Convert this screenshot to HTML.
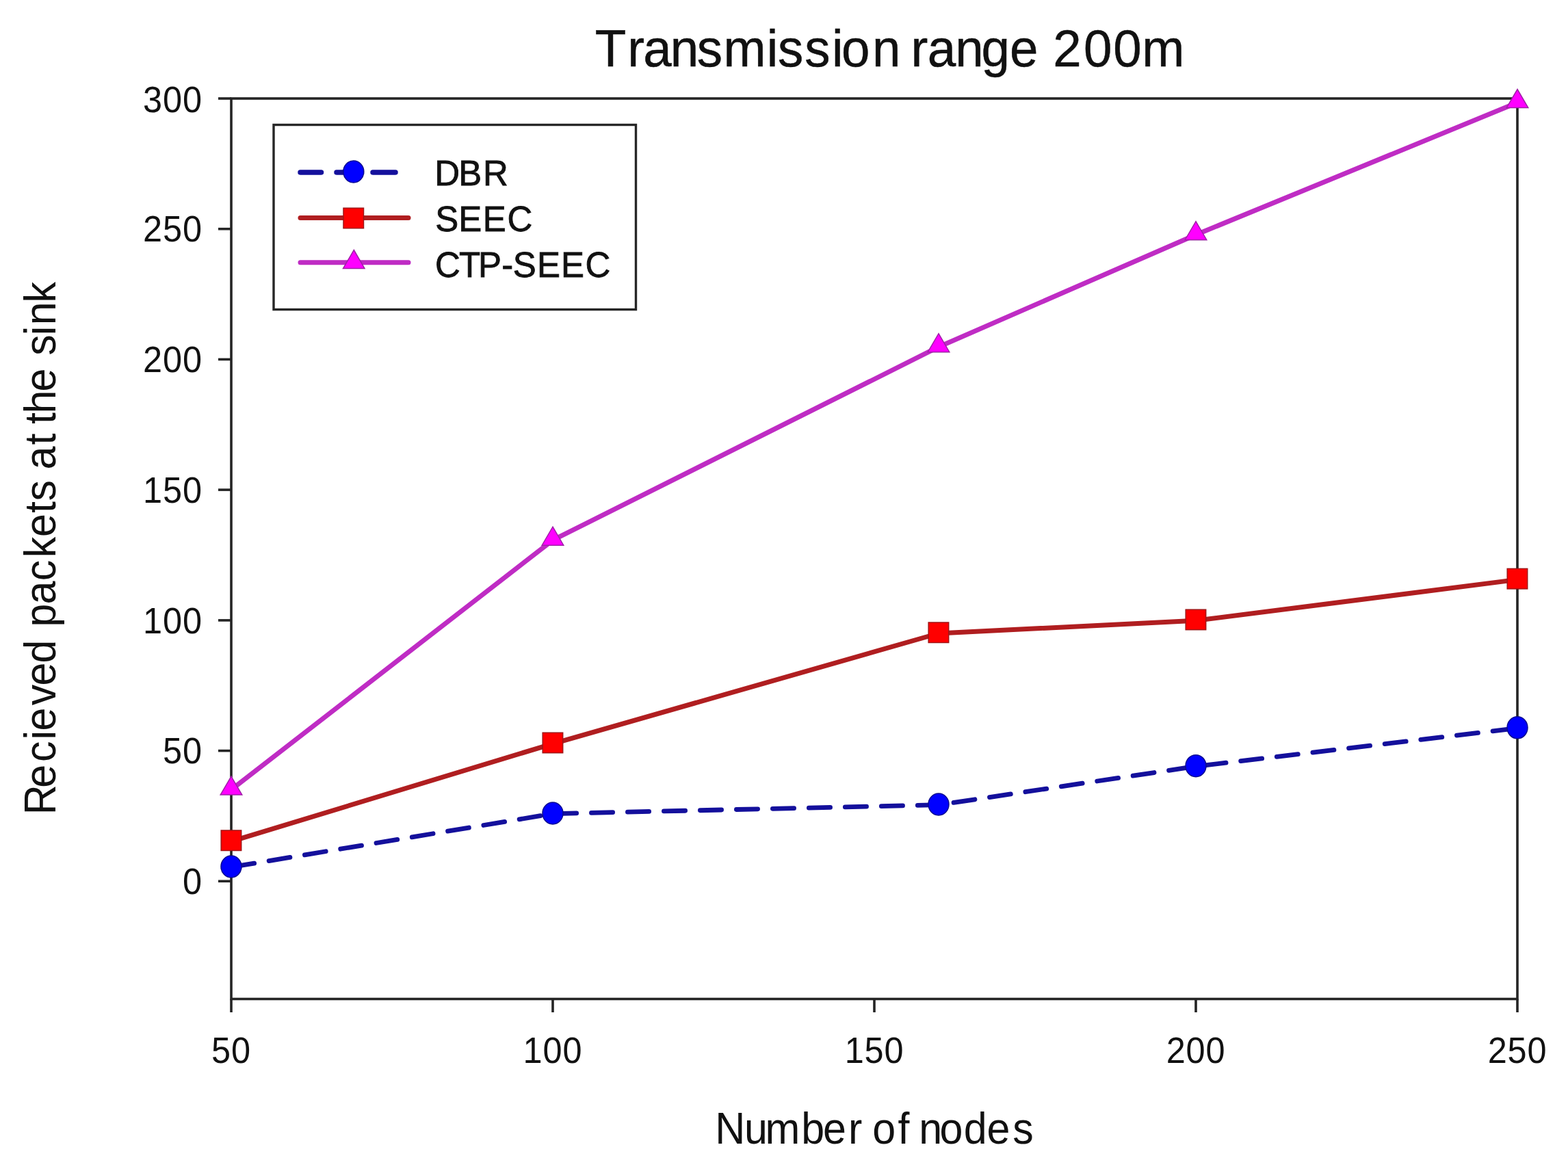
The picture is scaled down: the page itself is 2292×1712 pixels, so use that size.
<!DOCTYPE html>
<html><head><meta charset="utf-8"><title>Transmission range 200m</title>
<style>
html,body{margin:0;padding:0;background:#fff;}
body{width:2292px;height:1712px;overflow:hidden;}
svg{display:block;}
text{font-family:"Liberation Sans",Arial,Helvetica,sans-serif;fill:#111111;}
</style></head><body>
<svg width="2292" height="1712" viewBox="0 0 2292 1712">
<rect x="0" y="0" width="2292" height="1712" fill="#ffffff"/>
<g>

<text transform="translate(0,96.6) scale(1,1.025)" x="869.7 917.2 940.3 979.8 1018.8 1057.4 1120.7 1136.9 1176.3 1216.1 1230.0 1275.1 1316.6 1331.6 1355.7 1396.2 1434.4 1476.0 1517.5 1539.3 1584.1 1627.3 1669.3" y="0" font-size="74.6" stroke="#111111" stroke-width="0.5">Transmission range 200m</text>
<rect x="338" y="144" width="1880" height="1316.5" fill="none" stroke="#242424" stroke-width="3.6"/>
<line x1="319" y1="1288.3" x2="338" y2="1288.3" stroke="#242424" stroke-width="3.6"/>
<text transform="translate(0,1306.9) scale(1,1.07)" x="266.9" y="0" font-size="50.5">0</text>
<line x1="319" y1="1097.6" x2="338" y2="1097.6" stroke="#242424" stroke-width="3.6"/>
<text transform="translate(0,1116.2) scale(1,1.07)" x="238.0 266.9" y="0" font-size="50.5">50</text>
<line x1="319" y1="906.9" x2="338" y2="906.9" stroke="#242424" stroke-width="3.6"/>
<text transform="translate(0,925.5) scale(1,1.07)" x="209.1 238.0 266.9" y="0" font-size="50.5">100</text>
<line x1="319" y1="716.1" x2="338" y2="716.1" stroke="#242424" stroke-width="3.6"/>
<text transform="translate(0,734.8) scale(1,1.07)" x="209.1 238.0 266.9" y="0" font-size="50.5">150</text>
<line x1="319" y1="525.4" x2="338" y2="525.4" stroke="#242424" stroke-width="3.6"/>
<text transform="translate(0,544.0) scale(1,1.07)" x="209.1 238.0 266.9" y="0" font-size="50.5">200</text>
<line x1="319" y1="334.7" x2="338" y2="334.7" stroke="#242424" stroke-width="3.6"/>
<text transform="translate(0,353.3) scale(1,1.07)" x="209.1 238.0 266.9" y="0" font-size="50.5">250</text>
<line x1="319" y1="144.0" x2="338" y2="144.0" stroke="#242424" stroke-width="3.6"/>
<text transform="translate(0,163.6) scale(1,1.07)" x="209.1 238.0 266.9" y="0" font-size="50.5">300</text>
<line x1="338.0" y1="1460.5" x2="338.0" y2="1480" stroke="#242424" stroke-width="3.6"/>
<text transform="translate(0,1554.4) scale(1,1.07)" x="309.1 338.0" y="0" font-size="50.5">50</text>
<line x1="808.0" y1="1460.5" x2="808.0" y2="1480" stroke="#242424" stroke-width="3.6"/>
<text transform="translate(0,1554.4) scale(1,1.07)" x="764.6 793.5 822.4" y="0" font-size="50.5">100</text>
<line x1="1278.0" y1="1460.5" x2="1278.0" y2="1480" stroke="#242424" stroke-width="3.6"/>
<text transform="translate(0,1554.4) scale(1,1.07)" x="1234.7 1263.6 1292.5" y="0" font-size="50.5">150</text>
<line x1="1748.0" y1="1460.5" x2="1748.0" y2="1480" stroke="#242424" stroke-width="3.6"/>
<text transform="translate(0,1554.4) scale(1,1.07)" x="1704.7 1733.6 1762.5" y="0" font-size="50.5">200</text>
<line x1="2218.0" y1="1460.5" x2="2218.0" y2="1480" stroke="#242424" stroke-width="3.6"/>
<text transform="translate(0,1554.4) scale(1,1.07)" x="2174.7 2203.6 2232.5" y="0" font-size="50.5">250</text>
<text transform="translate(0,1671.8) scale(1,1.05)" x="1045.3 1088.1 1118.4 1171.2 1202.9 1239.9 1260.3 1275.3 1312.6 1329.6 1343.3 1373.6 1408.7 1442.6 1480.2" y="0" font-size="61">Number of nodes</text>
<text transform="translate(80.6,1200) rotate(-90) scale(1,1.05)" x="8.8 48.2 85.9 118.5 131.4 168.7 197.6 230.4 264.4 283.6 316.6 350.7 384.8 414.9 450.1 467.6 498.1 513.6 549.5 566.4 580.1 595.6 627.4 661.3 680.2 709.8 724.8 757.5" y="0" font-size="61">Recieved packets at the sink</text>
<polyline points="338.0,1154.6 808.0,789.7 1372.0,507.2 1748.0,343.2 2218.0,150.0" fill="none" stroke="#bf2cc4" stroke-width="7" stroke-linejoin="round" stroke-linecap="round"/>
<polyline points="338.0,1230.1 808.0,1087.3 1372.0,926.0 1748.0,907.3 2218.0,847.4" fill="none" stroke="#b01e20" stroke-width="7" stroke-linejoin="round" stroke-linecap="round"/>
<polyline points="338.0,1267.7 808.0,1189.7 1372.0,1176.7 1748.0,1120.4 2218.0,1064.5" fill="none" stroke="#14109c" stroke-width="6.8" stroke-dasharray="31.2 21.8" stroke-dashoffset="-2.9" stroke-linejoin="round" stroke-linecap="round"/>
<polygon points="338.0,1135.1 353.8,1162.1 322.2,1162.1" fill="#ff00ff" stroke="#a020a8" stroke-width="1.5" stroke-linejoin="miter"/>
<polygon points="808.0,770.2 823.8,797.2 792.2,797.2" fill="#ff00ff" stroke="#a020a8" stroke-width="1.5" stroke-linejoin="miter"/>
<polygon points="1372.0,487.7 1387.8,514.7 1356.2,514.7" fill="#ff00ff" stroke="#a020a8" stroke-width="1.5" stroke-linejoin="miter"/>
<polygon points="1748.0,323.7 1763.8,350.7 1732.2,350.7" fill="#ff00ff" stroke="#a020a8" stroke-width="1.5" stroke-linejoin="miter"/>
<polygon points="2218.0,130.5 2233.8,157.5 2202.2,157.5" fill="#ff00ff" stroke="#a020a8" stroke-width="1.5" stroke-linejoin="miter"/>
<rect x="323.2" y="1214.0" width="29.5" height="29.5" fill="#ff0000" stroke="#a01416" stroke-width="1.5"/>
<rect x="793.2" y="1071.2" width="29.5" height="29.5" fill="#ff0000" stroke="#a01416" stroke-width="1.5"/>
<rect x="1357.2" y="910.0" width="29.5" height="29.5" fill="#ff0000" stroke="#a01416" stroke-width="1.5"/>
<rect x="1733.2" y="891.2" width="29.5" height="29.5" fill="#ff0000" stroke="#a01416" stroke-width="1.5"/>
<rect x="2203.2" y="831.4" width="29.5" height="29.5" fill="#ff0000" stroke="#a01416" stroke-width="1.5"/>
<ellipse cx="338.0" cy="1267.0" rx="15.0" ry="16.0" fill="#0000ff" stroke="#0a0a90" stroke-width="1.5"/>
<ellipse cx="808.0" cy="1189.0" rx="15.0" ry="16.0" fill="#0000ff" stroke="#0a0a90" stroke-width="1.5"/>
<ellipse cx="1372.0" cy="1176.0" rx="15.0" ry="16.0" fill="#0000ff" stroke="#0a0a90" stroke-width="1.5"/>
<ellipse cx="1748.0" cy="1119.7" rx="15.0" ry="16.0" fill="#0000ff" stroke="#0a0a90" stroke-width="1.5"/>
<ellipse cx="2218.0" cy="1063.8" rx="15.0" ry="16.0" fill="#0000ff" stroke="#0a0a90" stroke-width="1.5"/>
<rect x="400" y="182.5" width="529.5" height="270" fill="#fff" stroke="#262626" stroke-width="3.4"/>
<path d="M439 252H469.5M492 252H522.5M545 252H578" stroke="#14109c" stroke-width="7.5" stroke-linecap="round" fill="none"/>
<ellipse cx="516.8" cy="251.0" rx="15.0" ry="16.0" fill="#0000ff" stroke="#0a0a90" stroke-width="1.5"/>
<line x1="439" y1="318.4" x2="597" y2="318.4" stroke="#b01e20" stroke-width="7" stroke-linecap="round"/>
<rect x="502.0" y="304.2" width="29.5" height="29.5" fill="#ff0000" stroke="#a01416" stroke-width="1.5"/>
<line x1="439" y1="383.8" x2="597" y2="383.8" stroke="#bf2cc4" stroke-width="7" stroke-linecap="round"/>
<polygon points="517.3,365.5 533.0,392.5 501.5,392.5" fill="#ff00ff" stroke="#a020a8" stroke-width="1.5" stroke-linejoin="miter"/>
<text transform="translate(0,270.9) scale(1,1.02)" x="635.2 670.3 706.0" y="0" font-size="51" stroke="#111111" stroke-width="0.8">DBR</text>
<text transform="translate(0,338.3) scale(1,1.02)" x="636.2 670.3 705.8 741.5" y="0" font-size="51" stroke="#111111" stroke-width="0.8">SEEC</text>
<text transform="translate(0,404.6) scale(1,1.02)" x="635.9 671.0 699.0 733.3 749.7 785.1 819.9 855.6" y="0" font-size="51" stroke="#111111" stroke-width="0.8">CTP-SEEC</text>
</g>
</svg>
</body></html>
